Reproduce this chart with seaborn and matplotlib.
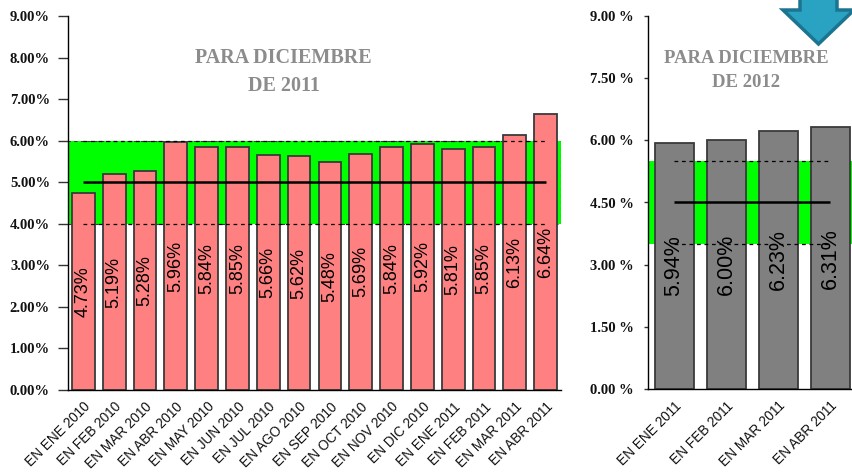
import matplotlib
matplotlib.use("Agg")
import matplotlib.pyplot as plt
import seaborn as sns
import pandas as pd
from matplotlib.patches import Polygon

# ---- data ----
cats_2011 = ["EN ENE 2010", "EN FEB 2010", "EN MAR 2010", "EN ABR 2010", "EN MAY 2010",
             "EN JUN 2010", "EN JUL 2010", "EN AGO 2010", "EN SEP 2010", "EN OCT 2010",
             "EN NOV 2010", "EN DIC 2010", "EN ENE 2011", "EN FEB 2011", "EN MAR 2011",
             "EN ABR 2011"]
vals_2011 = [4.73, 5.19, 5.28, 5.96, 5.84, 5.85, 5.66, 5.62, 5.48, 5.69, 5.84, 5.92,
             5.81, 5.85, 6.13, 6.64]
cats_2012 = ["EN ENE 2011", "EN FEB 2011", "EN MAR 2011", "EN ABR 2011"]
vals_2012 = [5.94, 6.00, 6.23, 6.31]

target_2011 = 5.0
band_2011 = (4.0, 6.0)
target_2012 = 4.5
band_2012 = (3.5, 5.5)

left_ticks = [0, 1, 2, 3, 4, 5, 6, 7, 8, 9]
right_ticks = [0, 1.5, 3.0, 4.5, 6.0, 7.5, 9.0]

title_2011 = "PARA DICIEMBRE\nDE 2011"
title_2012 = "PARA DICIEMBRE\nDE 2012"

# ---- style ----
sns.set_theme(style="white")
plt.rcParams["font.family"] = ["Liberation Sans", "DejaVu Sans"]

W, H = 852, 473
fig = plt.figure(figsize=(W / 100, H / 100), dpi=100)
fig.patch.set_facecolor("white")


def ax_rect(x0, y_top, x1, y_bot):
    return [x0 / W, (H - y_bot) / H, (x1 - x0) / W, (y_bot - y_top) / H]


GREEN = "#00ff00"
EDGE = "#3a3a3a"
TITLE_C = "#8c8c8c"


def draw_panel(ax, cats, vals, color, width, band, target, ticks, fmt, lab_fs, xr,
               band_edge, tick_len, tick_pad):
    df = pd.DataFrame({"cat": cats, "val": vals})
    n = len(cats)
    ax.axhspan(band[0], band[1], color=GREEN, zorder=0, lw=0)
    if band_edge:
        ax.axhspan(band[0], band[1], facecolor="none", edgecolor=EDGE, ls=(0, (3, 3)),
                   lw=0.8, zorder=0.5)
    sns.barplot(data=df, x="cat", y="val", color=color, width=width, edgecolor=EDGE,
                linewidth=1.3, saturation=1, ax=ax, zorder=2)
    ax.hlines(target, 0, n - 1, color="black", lw=1.8, zorder=3)
    ax.hlines(list(band), 0, n - 1, color="black", lw=0.9, ls=(0, (3, 3)), zorder=3)
    for i, v in enumerate(vals):
        ax.text(i, v / 2, f"{v:.2f}%", rotation=90, ha="center", va="center",
                fontsize=lab_fs, color="black", zorder=4)
    ax.set_xlim(-0.5, xr)
    ax.set_ylim(0, 9)
    ax.set_yticks(ticks)
    ax.set_yticklabels([fmt(t) for t in ticks], fontfamily="Liberation Serif",
                       fontweight="bold", fontsize=10.5, color="#111111")
    ax.set_xticks(range(n))
    ax.set_xticklabels(cats, rotation=45, ha="right", rotation_mode="anchor",
                       fontsize=9.8, color="#111111")
    ax.set_xlabel("")
    ax.set_ylabel("")
    for s in ["top", "right"]:
        ax.spines[s].set_visible(False)
    for s in ["left", "bottom"]:
        ax.spines[s].set_color("black")
        ax.spines[s].set_linewidth(1.0)
    ax.tick_params(axis="y", left=True, length=tick_len, width=1, color="#333333",
                   pad=tick_pad)
    ax.tick_params(axis="x", bottom=False, pad=1)
    ax.patch.set_alpha(0)


ax1 = fig.add_axes(ax_rect(68, 16, 561, 390))
draw_panel(ax1, cats_2011, vals_2011, "#ff8080", 0.74, band_2011, target_2011,
           left_ticks, lambda t: f"{t:.2f}%", 13, len(cats_2011) - 0.5, True, 7, 6)
ax1.text(0.437, 0.851, title_2011, transform=ax1.transAxes, ha="center", va="center",
         fontfamily="Liberation Serif", fontweight="bold", fontsize=14.5, color=TITLE_C,
         linespacing=1.55)

ax2 = fig.add_axes(ax_rect(648, 16, 856, 389))
draw_panel(ax2, cats_2012, vals_2012, "#808080", 0.75, band_2012, target_2012,
           right_ticks, lambda t: f"{t:.2f} %", 15.5, 3.5, False, 3, 7)
ax2.text(0.471, 0.854, title_2012, transform=ax2.transAxes, ha="center", va="center",
         fontfamily="Liberation Serif", fontweight="bold", fontsize=13.5, color=TITLE_C,
         linespacing=1.5)

# decorative blue arrow (top right)
pts = [(800, -2), (837, -2), (837, 10), (854, 10), (818.5, 44), (783, 10), (800, 10)]
arrow = Polygon([(x / W, 1 - y / H) for x, y in pts], closed=True,
                transform=fig.transFigure, facecolor="#2aa3c3", edgecolor="#1b7490",
                lw=2.5, zorder=10, clip_on=False)
fig.add_artist(arrow)

fig.savefig("out.png", dpi=100, facecolor="white")
